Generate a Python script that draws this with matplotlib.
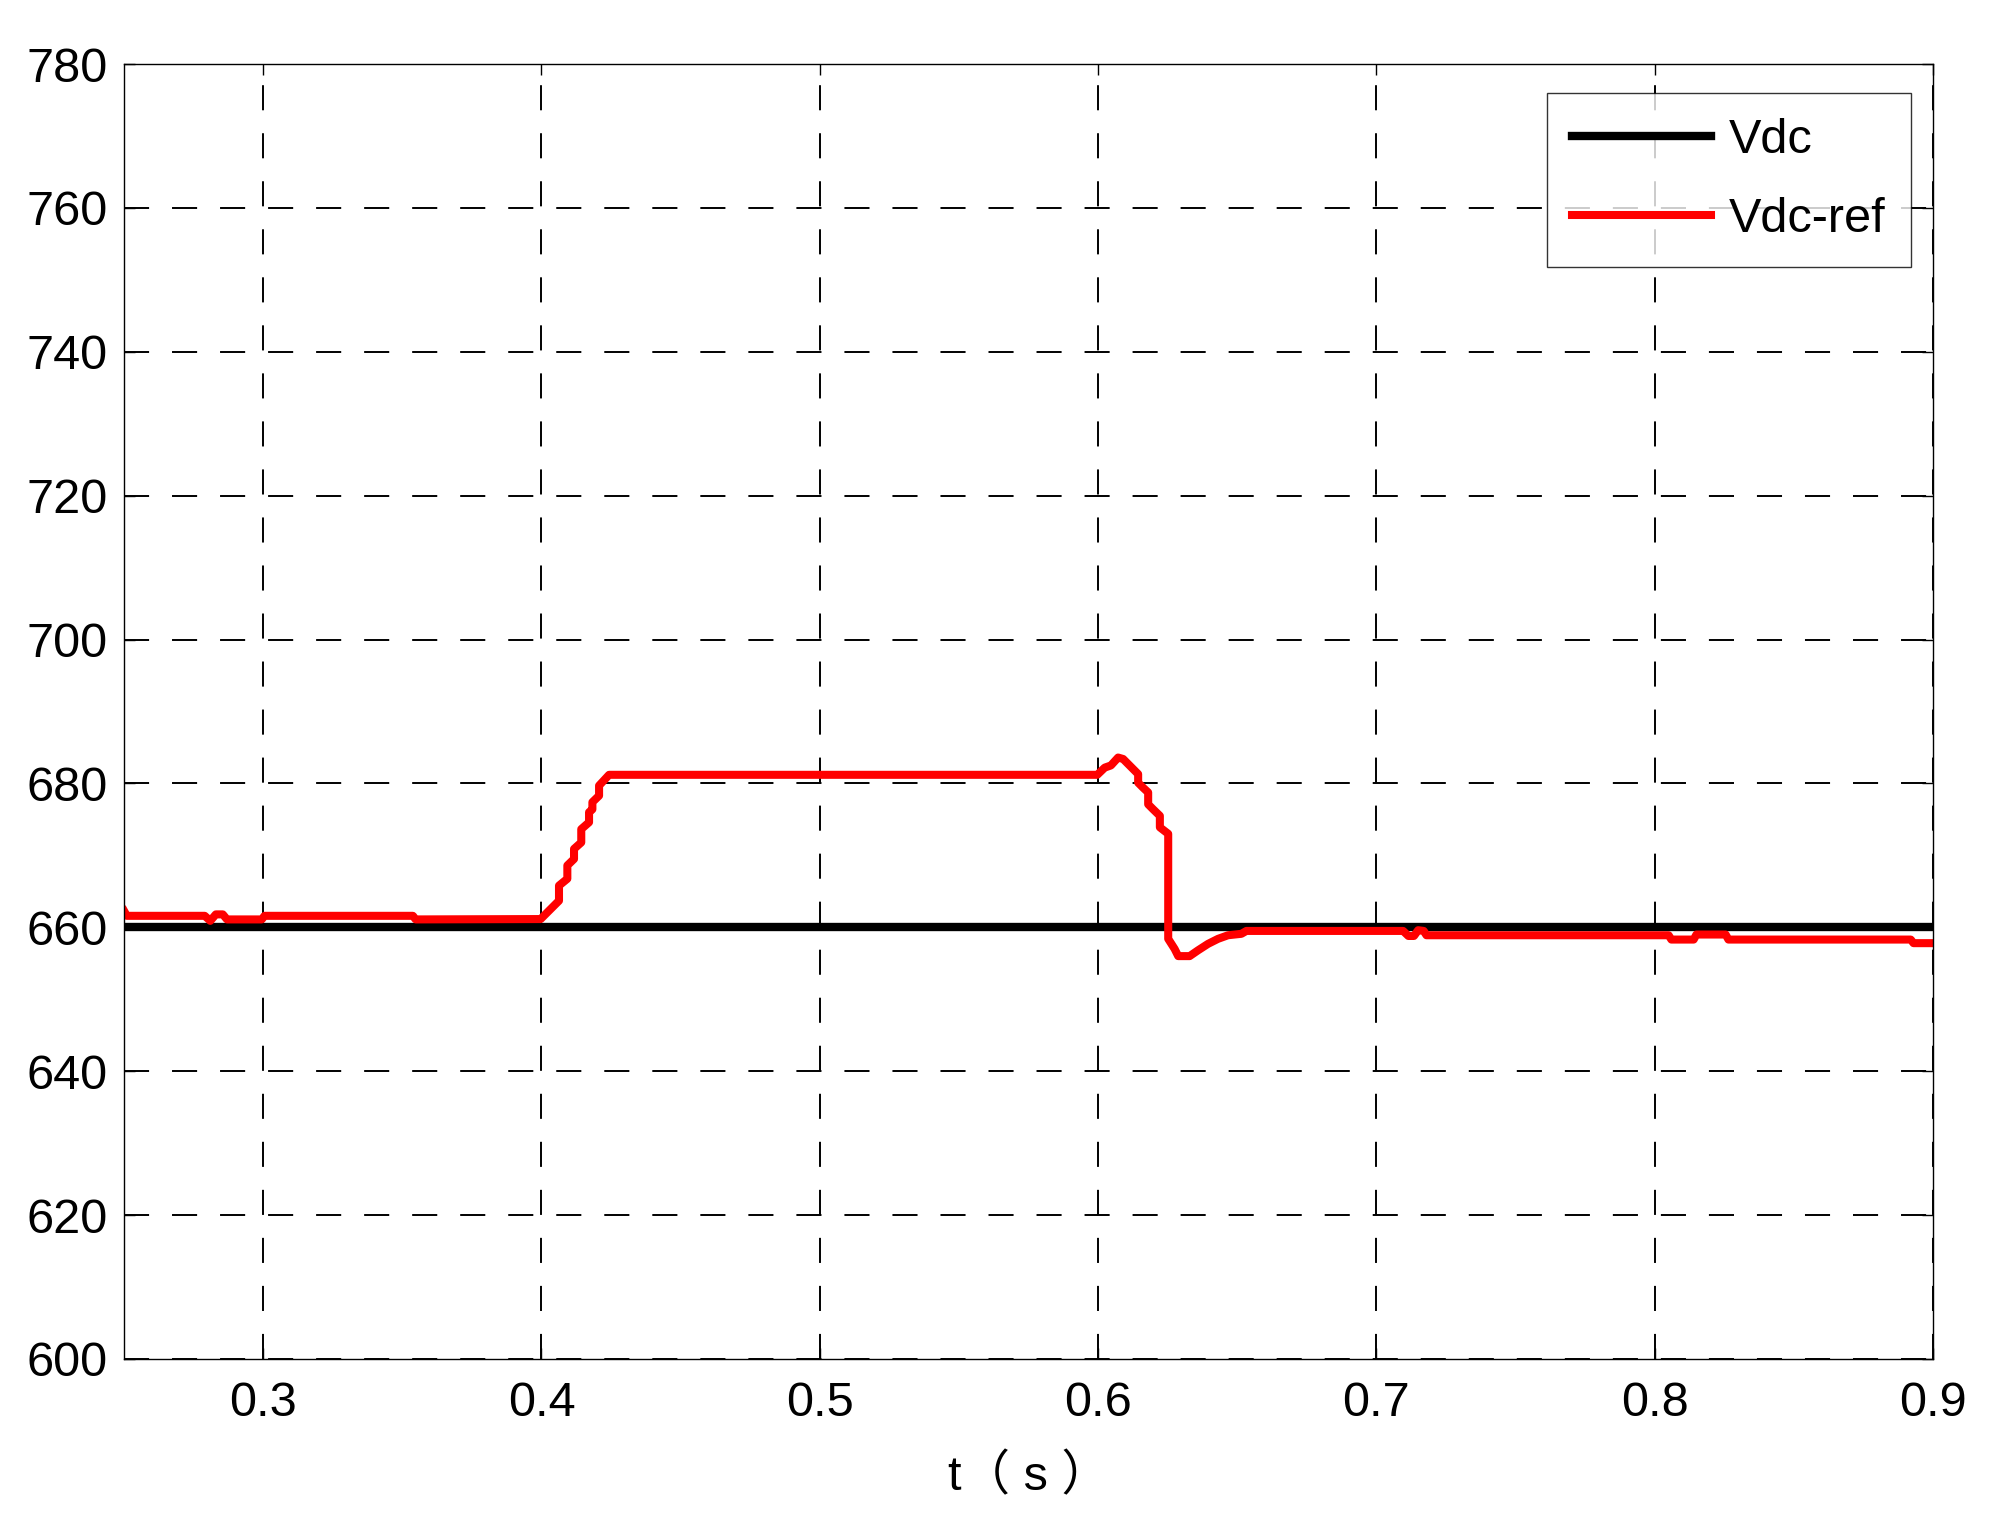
import matplotlib
matplotlib.use("Agg")
import matplotlib.pyplot as plt

# ---- data ----
t_dc = [0.25, 0.90]
v_dc = [660.0, 660.0]

t_ref = [0.2500, 0.2510, 0.2790, 0.2810, 0.2830, 0.2855, 0.2870, 0.2995, 0.3005,
         0.3538, 0.3548, 0.3997, 0.4063, 0.4063, 0.4093, 0.4093, 0.4117, 0.4117,
         0.4143, 0.4143, 0.4171, 0.4171, 0.4183, 0.4183, 0.4207, 0.4207, 0.4243,
         0.5997, 0.6024, 0.6046, 0.6072, 0.6090, 0.6144, 0.6144, 0.6162, 0.6180,
         0.6180, 0.6198, 0.6222, 0.6222, 0.6252, 0.6252, 0.6275, 0.6288, 0.6329,
         0.6359, 0.6395, 0.6431, 0.6467, 0.6515, 0.6533, 0.7096, 0.7115, 0.7135,
         0.7150, 0.7170, 0.7180, 0.8050, 0.8060, 0.8140, 0.8150, 0.8255, 0.8265,
         0.8920, 0.8930, 0.9000]
v_ref = [662.3, 661.6, 661.6, 660.9, 661.8, 661.8, 661.1, 661.1, 661.6,
         661.6, 661.1, 661.15, 663.7, 665.8, 666.75, 668.6, 669.5, 670.9,
         671.8, 673.65, 674.6, 676.0, 676.4, 677.4, 678.3, 679.7, 681.2,
         681.2, 682.2, 682.5, 683.6, 683.4, 681.3, 680.1, 679.4, 678.75,
         677.1, 676.4, 675.5, 673.9, 673.0, 658.4, 657.0, 656.0, 656.0,
         656.8, 657.7, 658.4, 658.9, 659.1, 659.5, 659.5, 658.8, 658.8,
         659.6, 659.5, 658.9, 658.9, 658.3, 658.3, 659.0, 659.0, 658.3,
         658.3, 657.8, 657.8]

xticks = [0.3, 0.4, 0.5, 0.6, 0.7, 0.8, 0.9]
yticks = [600, 620, 640, 660, 680, 700, 720, 740, 760, 780]
labels = ["Vdc", "Vdc-ref"]

plt.rcParams['font.family'] = ['Liberation Sans', 'Noto Sans CJK SC', 'DejaVu Sans']

W, H = 1991, 1521
fig = plt.figure(figsize=(W / 100, H / 100), dpi=100)
ax = fig.add_axes([124 / W, 1 - 1359 / H, (1933 - 124) / W, (1359 - 64) / H])

ax.plot(t_dc, v_dc, color='black', lw=6, label=labels[0])
ax.plot(t_ref, v_ref, color='#ff0000', lw=5.8, label=labels[1])

ax.set_xlim(0.25, 0.9)
ax.set_ylim(600, 780)
ax.set_xticks(xticks)
ax.set_yticks(yticks)
ax.set_xticklabels([f"{x:.1f}" for x in xticks])

ax.grid(True, color='black', lw=1.4, linestyle=(0, (12.9, 11.8)))
ax.tick_params(direction='in', length=8, width=1, top=True, right=True,
               labelsize=35)
ax.tick_params(axis='x', pad=16)
ax.tick_params(axis='y', pad=12)
for s in ax.spines.values():
    s.set_linewidth(1.0)

ax.set_xlabel("t（ s ）", fontsize=35, labelpad=20)

leg = ax.legend(loc='upper right', bbox_to_anchor=(0.9879, 0.9778), borderaxespad=0,
                fontsize=35, frameon=True, fancybox=False, edgecolor='black',
                handlelength=2.85, handletextpad=0.38, labelspacing=0.7,
                borderpad=0.52)
leg.get_frame().set_linewidth(1.0)

fig.savefig("out.png", dpi=100, facecolor='white')
